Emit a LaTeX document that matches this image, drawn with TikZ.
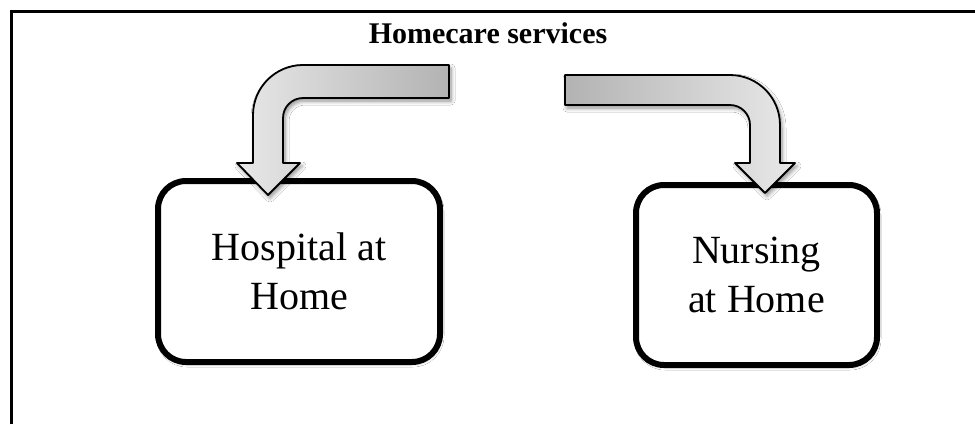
\documentclass[tikz,border=0pt]{standalone}
\usepackage{fontspec}
\setmainfont{Liberation Serif}
\usetikzlibrary{shadows.blur}
\tikzset{
  frameline/.style={line width=3.5pt, black},
  homebox/.style={draw=black, line width=6pt, rounded corners=28pt, fill=white,
    align=center, font=\fontsize{40}{49}\selectfont, inner sep=0pt,
    blur shadow={shadow xshift=1pt, shadow yshift=-2pt, shadow opacity=25, shadow blur steps=5, shadow blur radius=3pt}},
  bentarrow/.style={draw=black, line width=1.8pt, line join=round,
    blur shadow={shadow xshift=2pt, shadow yshift=-3pt, shadow opacity=45, shadow blur steps=6, shadow blur radius=4pt}},
  titletext/.style={font=\bfseries\fontsize{30}{36}\selectfont, inner sep=0pt}
}
\begin{document}
\begin{tikzpicture}[x=1pt, y=1pt]
\fill[white] (0,0) rectangle (975,-424);
\useasboundingbox (0,0) rectangle (975,-424);
% frame (only top and left edges visible)
\draw[frameline] (11.5,-424) -- (11.5,-11.5) -- (975,-11.5);
% title
\node[titletext, anchor=base] (title) at (488,-43) {Homecare services};
% boxes
\node[homebox, minimum width=282pt, minimum height=181pt] (hosp) at (299,-271.5) {Hospital at\\Home};
\node[homebox, minimum width=241pt, minimum height=180pt] (nurs) at (756.5,-275) {Nursing\\at Home};
% left bent arrow
\path[bentarrow, left color=black!9, right color=black!30]
  (449,-65) -- (303,-65) arc[start angle=90, end angle=180, radius=50pt]
  -- (253,-163) -- (237,-163) -- (268,-195) -- (300,-163) -- (283,-163)
  -- (283,-118) arc[start angle=180, end angle=90, radius=20pt]
  -- (449,-98) -- cycle;
% right bent arrow
\path[bentarrow, left color=black!30, right color=black!9]
  (565,-75) -- (730,-75) arc[start angle=90, end angle=0, radius=50pt]
  -- (780,-163) -- (795,-163) -- (765,-193) -- (735,-163) -- (750,-163)
  -- (750,-125) arc[start angle=0, end angle=90, radius=20pt]
  -- (565,-105) -- cycle;
\end{tikzpicture}
\end{document}
